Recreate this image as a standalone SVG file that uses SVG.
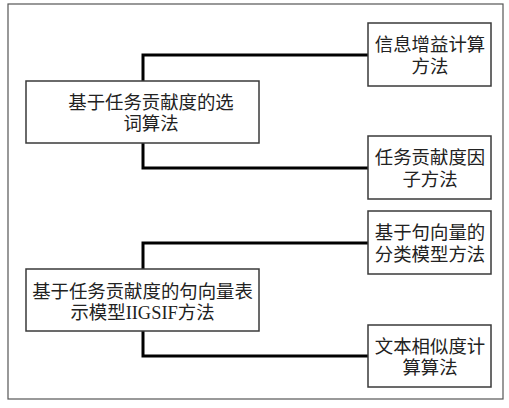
<svg xmlns="http://www.w3.org/2000/svg" width="509" height="408" viewBox="0 0 509 408">
<style>
.box{fill:#fff;stroke:#3a3a3a;stroke-width:1.5}
.frame{fill:#fff;stroke:#555;stroke-width:1.2}
.t{font-family:"Liberation Serif","Noto Sans CJK SC",sans-serif;font-size:18.4px;fill:#222;text-anchor:middle}
.c{fill:none;stroke:#000;stroke-width:3}
</style>
<rect width="509" height="408" fill="#fff"/>
<rect class="frame" x="8" y="4" width="495" height="395"/>
<g id="connectors">
<path class="c" d="M143 81 V55 H368"/>
<path class="c" d="M143 143 V168 H368"/>
<path class="c" d="M143 269 V243 H368"/>
<path class="c" d="M143 331 V356 H368"/>
</g>
<g id="n1">
<rect class="box" x="26" y="81" width="233" height="62"/>
<text class="t" x="151" y="108.5">基于任务贡献度的选</text>
<text class="t" x="151" y="130">词算法</text>
</g>
<g id="n2">
<rect class="box" x="368" y="23" width="123" height="63"/>
<text class="t" x="430" y="51">信息增益计算</text>
<text class="t" x="430" y="72.5">方法</text>
</g>
<g id="n3">
<rect class="box" x="368" y="136" width="123" height="63"/>
<text class="t" x="430" y="164">任务贡献度因</text>
<text class="t" x="430" y="185.5">子方法</text>
</g>
<g id="n4">
<rect class="box" x="26" y="269" width="233" height="62"/>
<text class="t" x="142.5" y="297.5">基于任务贡献度的句向量表</text>
<text class="t" x="142.5" y="319">示模型IIGSIF方法</text>
</g>
<g id="n5">
<rect class="box" x="368" y="211" width="123" height="63"/>
<text class="t" x="430" y="239">基于句向量的</text>
<text class="t" x="430" y="260.5">分类模型方法</text>
</g>
<g id="n6">
<rect class="box" x="368" y="325" width="123" height="62"/>
<text class="t" x="430" y="352.5">文本相似度计</text>
<text class="t" x="430" y="374">算算法</text>
</g>
</svg>
